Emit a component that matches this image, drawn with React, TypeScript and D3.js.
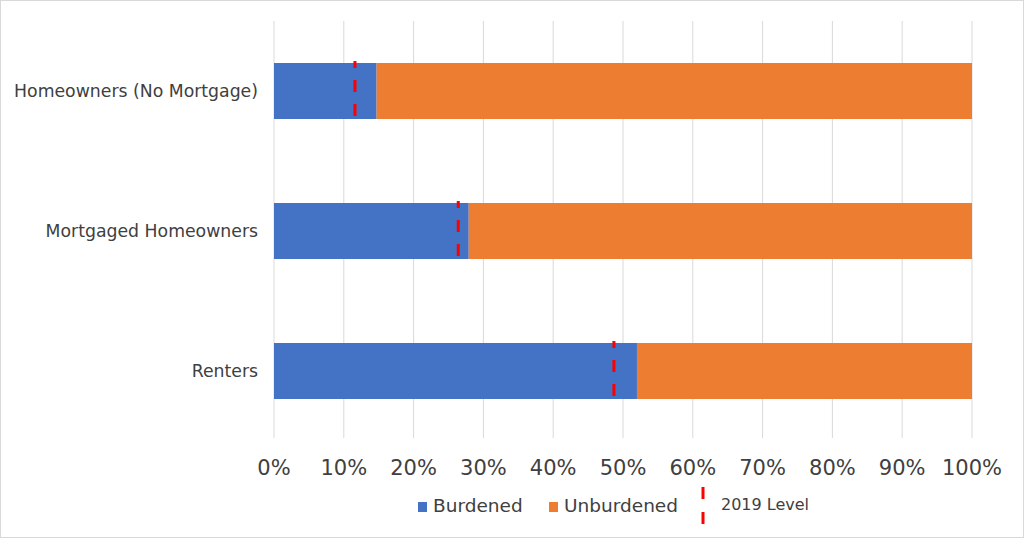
import React, { useRef, useEffect } from 'react';
import * as d3 from 'd3';

const categories = ['Homeowners (No Mortgage)', 'Mortgaged Homeowners', 'Renters'];
const burdened = [14.7, 27.9, 52.0];
const unburdened = [85.3, 72.1, 48.0];
const level2019 = [11.6, 26.4, 48.7];
const ticks = [0, 10, 20, 30, 40, 50, 60, 70, 80, 90, 100];

const BLUE = '#4472C4';
const ORANGE = '#ED7D31';
const RED = '#FF0000';
const FONT = 'Verdana, "DejaVu Sans", sans-serif';

const App: React.FC = () => {
    const svgRef = useRef<SVGSVGElement | null>(null);

    useEffect(() => {
        document.body.style.margin = '0';
        const svg = d3.select(svgRef.current);
        svg.selectAll('*').remove();

        const width = 1024;
        const height = 538;
        const left = 274;
        const right = 972;
        const top = 21;
        const bottom = 441;

        svg.append('rect')
            .attr('x', 0.5).attr('y', 0.5)
            .attr('width', width - 1).attr('height', height - 1)
            .attr('fill', '#fff').attr('stroke', '#d9d9d9');

        const x = d3.scaleLinear().domain([0, 100]).range([left, right]);
        const y = d3.scaleBand().domain(categories).range([top, bottom]).paddingInner(0.6).paddingOuter(0.3);

        // gridlines
        svg.append('g')
            .selectAll('line')
            .data(ticks)
            .join('line')
            .attr('x1', d => x(d)).attr('x2', d => x(d))
            .attr('y1', top).attr('y2', 438)
            .attr('stroke', '#d9d9d9').attr('stroke-width', 1);

        // tick labels
        svg.append('g')
            .selectAll('text')
            .data(ticks)
            .join('text')
            .attr('x', d => x(d))
            .attr('y', 475)
            .attr('text-anchor', 'middle')
            .attr('font-family', FONT)
            .attr('font-size', 21)
            .attr('fill', '#404040')
            .text(d => `${d}%`);

        // category labels
        svg.append('g')
            .selectAll('text')
            .data(categories)
            .join('text')
            .attr('x', 258)
            .attr('y', d => (y(d) as number) + y.bandwidth() / 2 + 6)
            .attr('text-anchor', 'end')
            .attr('font-family', FONT)
            .attr('font-size', 17.3)
            .attr('fill', '#404040')
            .text(d => d);

        // bars
        const bars = svg.append('g');
        bars.selectAll('rect.b')
            .data(categories)
            .join('rect')
            .attr('class', 'b')
            .attr('x', x(0))
            .attr('y', d => y(d) as number)
            .attr('width', (_, i) => x(burdened[i]) - x(0))
            .attr('height', y.bandwidth())
            .attr('fill', BLUE);
        bars.selectAll('rect.u')
            .data(categories)
            .join('rect')
            .attr('class', 'u')
            .attr('x', (_, i) => x(burdened[i]))
            .attr('y', d => y(d) as number)
            .attr('width', (_, i) => x(burdened[i] + unburdened[i]) - x(burdened[i]))
            .attr('height', y.bandwidth())
            .attr('fill', ORANGE);

        // 2019 level markers
        svg.append('g')
            .selectAll('line')
            .data(categories)
            .join('line')
            .attr('x1', (_, i) => x(level2019[i]))
            .attr('x2', (_, i) => x(level2019[i]))
            .attr('y1', d => (y(d) as number) - 2)
            .attr('y2', d => (y(d) as number) + y.bandwidth() + 3)
            .attr('stroke', RED)
            .attr('stroke-width', 3)
            .attr('stroke-dasharray', '12,12')
            .attr('stroke-dashoffset', 5);

        // legend
        const legend = svg.append('g');
        legend.append('rect').attr('x', 418).attr('y', 502).attr('width', 9).attr('height', 10).attr('fill', BLUE);
        legend.append('text').attr('x', 433).attr('y', 512)
            .attr('font-family', FONT).attr('font-size', 18.5).attr('fill', '#404040').text('Burdened');
        legend.append('rect').attr('x', 549).attr('y', 502).attr('width', 9).attr('height', 10).attr('fill', ORANGE);
        legend.append('text').attr('x', 564).attr('y', 512)
            .attr('font-family', FONT).attr('font-size', 18.5).attr('fill', '#404040').text('Unburdened');
        legend.append('line')
            .attr('x1', 703).attr('x2', 703).attr('y1', 487).attr('y2', 526)
            .attr('stroke', RED).attr('stroke-width', 3).attr('stroke-dasharray', '12,13');
        legend.append('text').attr('x', 721).attr('y', 510)
            .attr('font-family', FONT).attr('font-size', 16).attr('fill', '#404040').text('2019 Level');
    }, []);

    return <svg ref={svgRef} width={1024} height={538} style={{ display: 'block' }} />;
};

export default App;
